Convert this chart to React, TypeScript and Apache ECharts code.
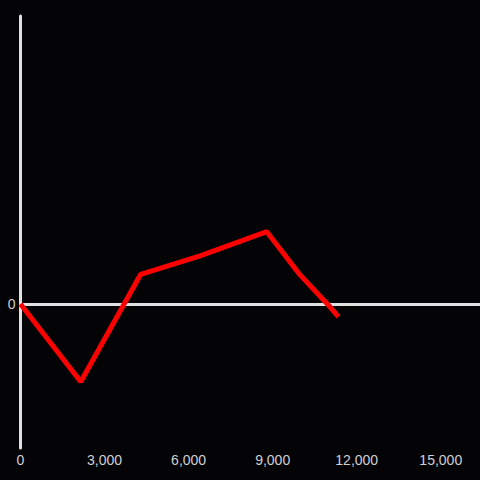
import React, { useEffect, useRef } from "react";
import * as echarts from "echarts";

const xValues = [0, 2150, 4290, 6410, 8790, 9980, 11000, 11350];
const yValues = [0, -270, 103, 167, 251, 101, -5, -45];
const xTicks = [0, 3000, 6000, 9000, 12000, 15000];

export default function App() {
  const ref = useRef<HTMLDivElement>(null);
  useEffect(() => {
    const chart = echarts.init(ref.current!, undefined, { renderer: "svg" });
    const labelColor = "#d0d0d0";
    chart.setOption({
      animation: false,
      backgroundColor: "#040306",
      grid: { left: 20.5, right: 0, top: 16, bottom: 32, containLabel: false },
      xAxis: [
        {
          type: "value",
          min: 0,
          max: 16400,
          interval: 3000,
          axisLine: { show: false, onZero: false },
          axisTick: { show: false },
          splitLine: { show: false },
          axisLabel: {
            color: labelColor,
            fontSize: 14,
            fontFamily: "Liberation Sans, Arial, sans-serif",
            margin: 5,
            showMaxLabel: false,
            formatter: (v: number) =>
              xTicks.includes(v) ? v.toLocaleString("en-US") : "",
          },
        },
        {
          type: "value",
          min: 0,
          max: 16400,
          interval: 3000,
          position: "bottom",
          axisLine: { show: true, onZero: true, lineStyle: { color: "#e0e0e0", width: 3 } },
          axisTick: { show: false },
          splitLine: { show: false },
          axisLabel: { show: false },
        },
      ],
      yAxis: {
        type: "value",
        min: -500,
        max: 1000,
        interval: 500,
        axisLine: { show: true, onZero: false, lineStyle: { color: "#e0e0e0", width: 3 } },
        axisTick: { show: false },
        splitLine: { show: false },
        axisLabel: {
          color: labelColor,
          fontSize: 14,
          fontFamily: "Liberation Sans, Arial, sans-serif",
          margin: 5,
          formatter: (v: number) => (v === 0 ? "0" : ""),
        },
      },
      series: [
        {
          type: "line",
          xAxisIndex: 0,
          data: xValues.map((x, i) => [x, yValues[i]]),
          showSymbol: false,
          symbol: "none",
          lineStyle: { color: "#ff0000", width: 5 },
        },
      ],
    });
    return () => chart.dispose();
  }, []);
  return <div ref={ref} style={{ width: 480, height: 480, position: "fixed", left: 0, top: 0 }} />;
}
